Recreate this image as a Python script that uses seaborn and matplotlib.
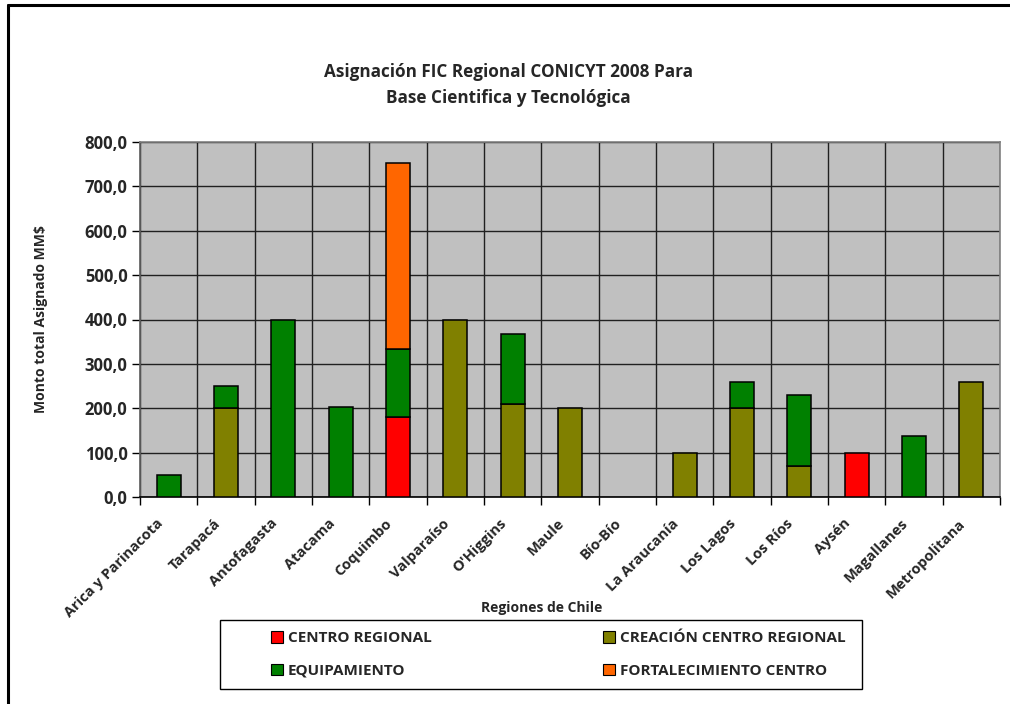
import pandas as pd
import matplotlib
matplotlib.use("Agg")
import matplotlib.pyplot as plt
import seaborn as sns
import matplotlib.patches as mpatches
import matplotlib.transforms as mtransforms
from matplotlib.lines import Line2D
from matplotlib.ticker import FuncFormatter, MultipleLocator, FixedLocator

# Regions (x axis) and amounts per component (MM$)
regiones = ['Arica y Parinacota', 'Tarapacá', 'Antofagasta', 'Atacama', 'Coquimbo',
            'Valparaíso', "O'Higgins", 'Maule', 'Bío-Bío', 'La Araucanía',
            'Los Lagos', 'Los Ríos', 'Aysén', 'Magallanes', 'Metropolitana']
centro_regional = [0, 0, 0, 0, 180, 0, 0, 0, 0, 0, 0, 0, 100, 0, 0]
creacion_centro = [0, 200, 0, 0, 0, 400, 210, 200, 0, 100, 200, 70, 0, 0, 260]
equipamiento = [50, 50, 400, 203, 154, 0, 158, 0, 0, 0, 60, 160, 0, 138, 0]
fortalecimiento = [0, 0, 0, 0, 418, 0, 0, 0, 0, 0, 0, 0, 0, 0, 0]

series_names = ['CENTRO REGIONAL', 'CREACIÓN CENTRO REGIONAL', 'EQUIPAMIENTO', 'FORTALECIMIENTO CENTRO']
series_vals = [centro_regional, creacion_centro, equipamiento, fortalecimiento]
colors = ['#FF0000', '#808000', '#008000', '#FF6600']

sns.set_theme(style='white')
plt.rcParams['font.family'] = ['Open Sans', 'DejaVu Sans']
plt.rcParams['font.weight'] = 'bold'

fig = plt.figure(figsize=(10.1, 7.04), dpi=100)
ax = fig.add_axes([140 / 1010, 1 - 497 / 704, 860 / 1010, 355 / 704])
ax.set_facecolor('#C0C0C0')

#stacked bars, skip empty segments
bottoms = [0.0] * len(regiones)
for name, vals, col in zip(series_names, series_vals, colors):
    rows = [(r, v, b) for r, v, b in zip(regiones, vals, bottoms) if v > 0]
    df = pd.DataFrame(rows, columns=['region', 'value', 'bottom'])
    sns.barplot(data=df, x='region', y='value', order=regiones, bottom=df['bottom'].values,
                color=col, saturation=1, width=0.42, edgecolor='black', linewidth=1.1,
                errorbar=None, ax=ax, zorder=3)
    bottoms = [b + v for b, v in zip(bottoms, vals)]

ax.set_xlim(-0.5, len(regiones) - 0.5)
ax.set_ylim(0, 800)
ax.yaxis.set_major_locator(MultipleLocator(100))
ax.yaxis.set_major_formatter(FuncFormatter(lambda v, p: f'{v:.1f}'.replace('.', ',')))

#grid: horizontal on values, vertical on category boundaries
ax.xaxis.set_minor_locator(FixedLocator([i + 0.5 for i in range(-1, len(regiones))]))
ax.grid(True, axis='y', which='major', color='#202020', linewidth=1, zorder=1)
ax.grid(True, axis='x', which='minor', color='#202020', linewidth=1, zorder=1)
ax.set_axisbelow(True)

ax.tick_params(axis='x', which='major', length=0, pad=6, labelsize=10.5)
ax.tick_params(axis='x', which='minor', length=6, width=1, color='black', direction='out', bottom=True)
ax.tick_params(axis='y', length=6, width=1, color='black', direction='out', left=True, labelsize=12, pad=3)
#shift rotated labels down-left like Excel does
shift = mtransforms.ScaledTranslation(-13 / 100, -11 / 100, fig.dpi_scale_trans)
for lab in ax.get_xticklabels():
    lab.set_rotation(45)
    lab.set_ha('right')
    lab.set_rotation_mode('anchor')
    lab.set_fontweight('bold')
    lab.set_transform(lab.get_transform() + shift)
plt.setp(ax.get_yticklabels(), fontweight='bold')

for s in ['top', 'right']:
    ax.spines[s].set_color('#808080')
    ax.spines[s].set_linewidth(1.2)
ax.spines['left'].set_color('#606060')
ax.spines['bottom'].set_color('black')
ax.spines['bottom'].set_linewidth(1.2)

ax.set_xlabel('')
ax.set_ylabel('Monto total Asignado MM$', fontsize=10, fontweight='bold')
ax.yaxis.set_label_coords(-92 / 860, 0.5)

fig.text(542 / 1010, 1 - 608 / 704, 'Regiones de Chile', ha='center', va='center',
         fontsize=10, fontweight='bold')
fig.text(508 / 1010, 1 - 72 / 704, 'Asignación FIC Regional CONICYT 2008 Para',
         ha='center', va='center', fontsize=12.3, fontweight='bold')
fig.text(508 / 1010, 1 - 98 / 704, 'Base Cientifica y Tecnológica',
         ha='center', va='center', fontsize=12.3, fontweight='bold')

#legend with box drawn separately
handles = [mpatches.Patch(facecolor=c, edgecolor='black', linewidth=0.8, label=n)
           for n, c in zip(series_names, colors)]
handles = [handles[0], handles[2], handles[1], handles[3]]
leg = fig.legend(handles=handles, ncol=2, mode='expand', frameon=False,
                 bbox_to_anchor=(257 / 1010, 1 - 689 / 704, 602 / 1010, 69 / 704),
                 loc='center', handlelength=0.8, handleheight=0.8, handletextpad=0.3,
                 labelspacing=1.2, prop={'size': 11, 'weight': 'bold'})
fig.add_artist(mpatches.Rectangle((220 / 1010, 1 - 689 / 704), 642 / 1010, 69 / 704,
                                  transform=fig.transFigure, fill=False,
                                  edgecolor='black', linewidth=1))

#outer chart border (left and top only visible)
fig.add_artist(Line2D([8 / 1010, 8 / 1010], [0, 1 - 5 / 704], transform=fig.transFigure,
                      color='black', linewidth=2.2))
fig.add_artist(Line2D([8 / 1010, 1], [1 - 5 / 704, 1 - 5 / 704], transform=fig.transFigure,
                      color='black', linewidth=2.2))

fig.savefig('out.png', dpi=100, facecolor='white')
